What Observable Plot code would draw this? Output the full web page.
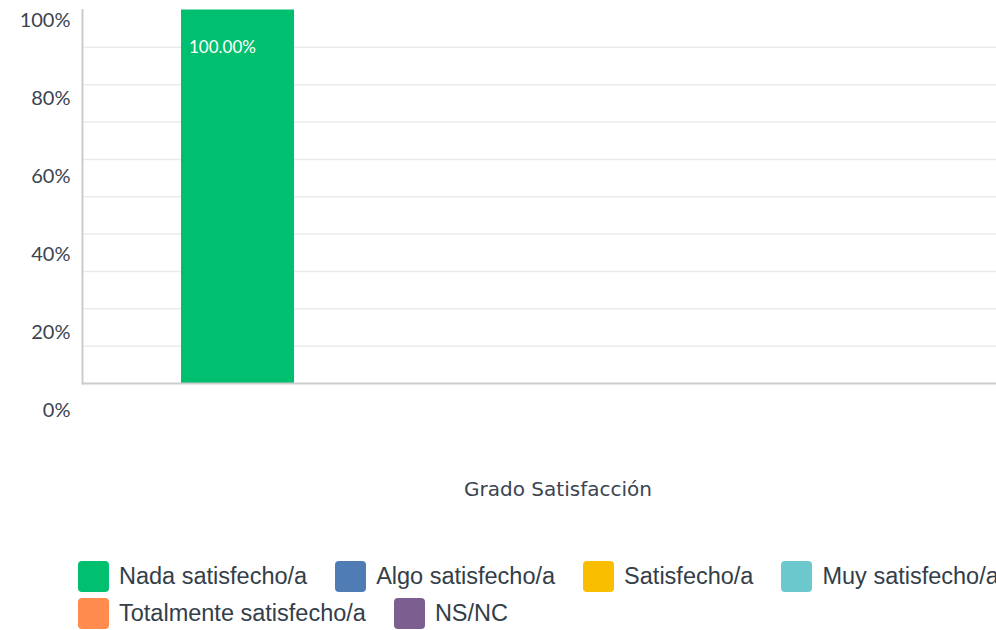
<!DOCTYPE html>
<html>
<head>
<meta charset="utf-8">
<script src="https://cdn.jsdelivr.net/npm/d3@7"></script>
<script src="https://cdn.jsdelivr.net/npm/@observablehq/plot@0.6"></script>
<style>
  html, body { margin: 0; padding: 0; background: #fff; overflow: hidden; }
  #wrap { position: relative; width: 996px; height: 630px; overflow: hidden; }
  #main { position: absolute; left: 0; top: 0; }
  #ylab { position: absolute; left: 0; top: 0; }
  #xtitle { position: absolute; left: 0; width: 1116px; top: 477px; text-align: center;
    font-family: "DejaVu Sans", sans-serif; font-size: 20px; color: #3b4450; }
  #legend { position: absolute; left: 78px; top: 561px; width: 1100px;
    font-family: "Liberation Sans", Arial, sans-serif; font-size: 23.5px; color: #333e48; }
  .row { display: flex; height: 37px; align-items: flex-start; }
  .item { display: flex; align-items: center; margin-right: 28px; white-space: nowrap; }
  .sw { width: 31px; height: 31px; border-radius: 4px; margin-right: 10px; flex: none; }
</style>
</head>
<body>
<div id="wrap">
  <div id="main"></div>
  <div id="ylab"></div>
  <div id="xtitle"></div>
  <div id="legend"></div>
</div>
<script>
const series = ["Nada satisfecho/a", "Algo satisfecho/a", "Satisfecho/a", "Muy satisfecho/a", "Totalmente satisfecho/a", "NS/NC"];
const values = [100, 0, 0, 0, 0, 0];
const colors = ["#00bf6f", "#507cb6", "#f9be00", "#6bc8cd", "#ff8b4f", "#7d5e90"];
const yTickLabels = ["100%", "80%", "60%", "40%", "20%", "0%"];
const gridValues = [10, 20, 30, 40, 50, 60, 70, 80, 90];
const xTitle = "Grado Satisfacción";
const legendRows = [[0, 1, 2, 3], [4, 5]];

const data = series.map((s, i) => ({series: s, value: values[i]}));

const main = Plot.plot({
  width: 996,
  height: 400,
  marginLeft: 82,
  marginRight: 0,
  marginTop: 9.5,
  marginBottom: 17,
  x: {domain: series, paddingInner: 0, paddingOuter: 1.04, align: 0.42, axis: null},
  y: {domain: [0, 100], axis: null},
  color: {domain: series, range: colors},
  style: {background: "transparent"},
  marks: [
    Plot.ruleY(gridValues, {stroke: "#ebebeb", strokeWidth: 1.5}),
    Plot.barY(data, {x: "series", y: "value", fill: "series"}),
    Plot.text(data.filter(d => d.value > 0), {
      x: "series", y: "value", text: d => d.value.toFixed(2) + "%",
      fill: "white", textAnchor: "start", frameAnchor: "left",
      dx: -49, dy: 38, fontSize: 17, fontFamily: "Lato, sans-serif"
    }),
    Plot.ruleY([0], {stroke: "#cccccc", strokeWidth: 2}),
    Plot.frame({anchor: "left", stroke: "#cccccc", strokeWidth: 2})
  ]
});
document.getElementById("main").appendChild(main);

// y-axis labels as drawn in the reference
const ylab = Plot.plot({
  width: 72,
  height: 430,
  marginLeft: 70, marginRight: 0, marginTop: 0, marginBottom: 0,
  y: {type: "point", domain: yTickLabels, range: [20, 410], padding: 0},
  style: {background: "transparent", overflow: "visible"},
  marks: [
    Plot.axisY({anchor: "left", tickSize: 0, tickPadding: 0, label: null,
      fontSize: 20, fontFamily: "Lato, sans-serif", fill: "#3b4450"})
  ]
});
document.getElementById("ylab").appendChild(ylab);

document.getElementById("xtitle").textContent = xTitle;

const legend = d3.select("#legend");
legendRows.forEach(r => {
  const row = legend.append("div").attr("class", "row");
  r.forEach(i => {
    const it = row.append("div").attr("class", "item");
    it.append("div").attr("class", "sw").style("background", colors[i]);
    it.append("span").text(series[i]);
  });
});
</script>
</body>
</html>
